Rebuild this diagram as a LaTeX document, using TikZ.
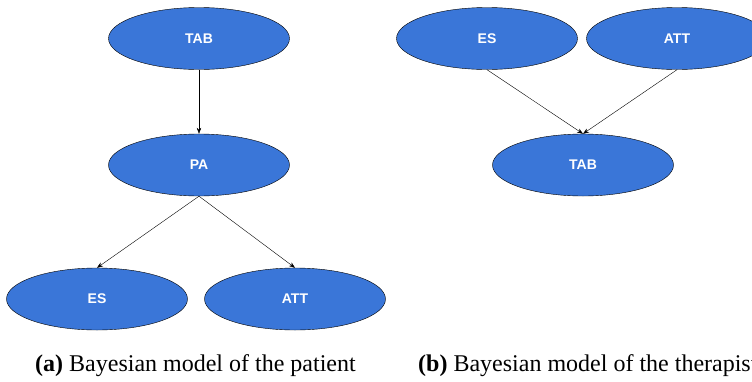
\documentclass[tikz,border=0pt]{standalone}
\usepackage{fontspec}
\setmainfont{Liberation Serif}
\setsansfont{Liberation Sans}
\usetikzlibrary{shapes.geometric,arrows.meta}
\definecolor{nodeblue}{RGB}{58,118,216}
\begin{document}
\begin{tikzpicture}
        [
           x=1pt,y=-1pt,
           var/.style={ellipse,draw,fill=nodeblue,text=white,inner sep=0pt,
              minimum width=181pt,minimum height=62pt,
              font=\sffamily\bfseries\fontsize{14}{16}\selectfont},
           edge/.style={-{Stealth[length=6pt,width=4.5pt]},thin},
           caption/.style={inner sep=0pt,anchor=base west,font=\fontsize{24}{28}\selectfont}
        ]
        \useasboundingbox (0,0) rectangle (752,381);
        \clip (0,0) rectangle (752,381);
        % (a) patient
        \node[var] (tabA) at (199,38.5) {TAB};
        \node[var] (paA) at (199,165) {PA};
        \node[var] (esA) at (97,299) {ES};
        \node[var] (attA) at (295,299) {ATT};
        \draw[edge] (tabA) -- (paA);
        \draw[edge] (paA.south) -- (esA.north);
        \draw[edge] (paA.south) -- (attA.north);
        % (b) therapist
        \node[var] (esB) at (487,38.5) {ES};
        \node[var] (attB) at (677,38.5) {ATT};
        \node[var] (tabB) at (583,165) {TAB};
        \draw[edge] (esB.south) -- (tabB.north);
        \draw[edge] (attB.south) -- (tabB.north);
        % captions
        \node[caption] (capA) at (35,371) {\textbf{(a)} Bayesian model of the patient};
        \node[caption] (capB) at (418,371) {\textbf{(b)} Bayesian model of the therapist};
\end{tikzpicture}
\end{document}
